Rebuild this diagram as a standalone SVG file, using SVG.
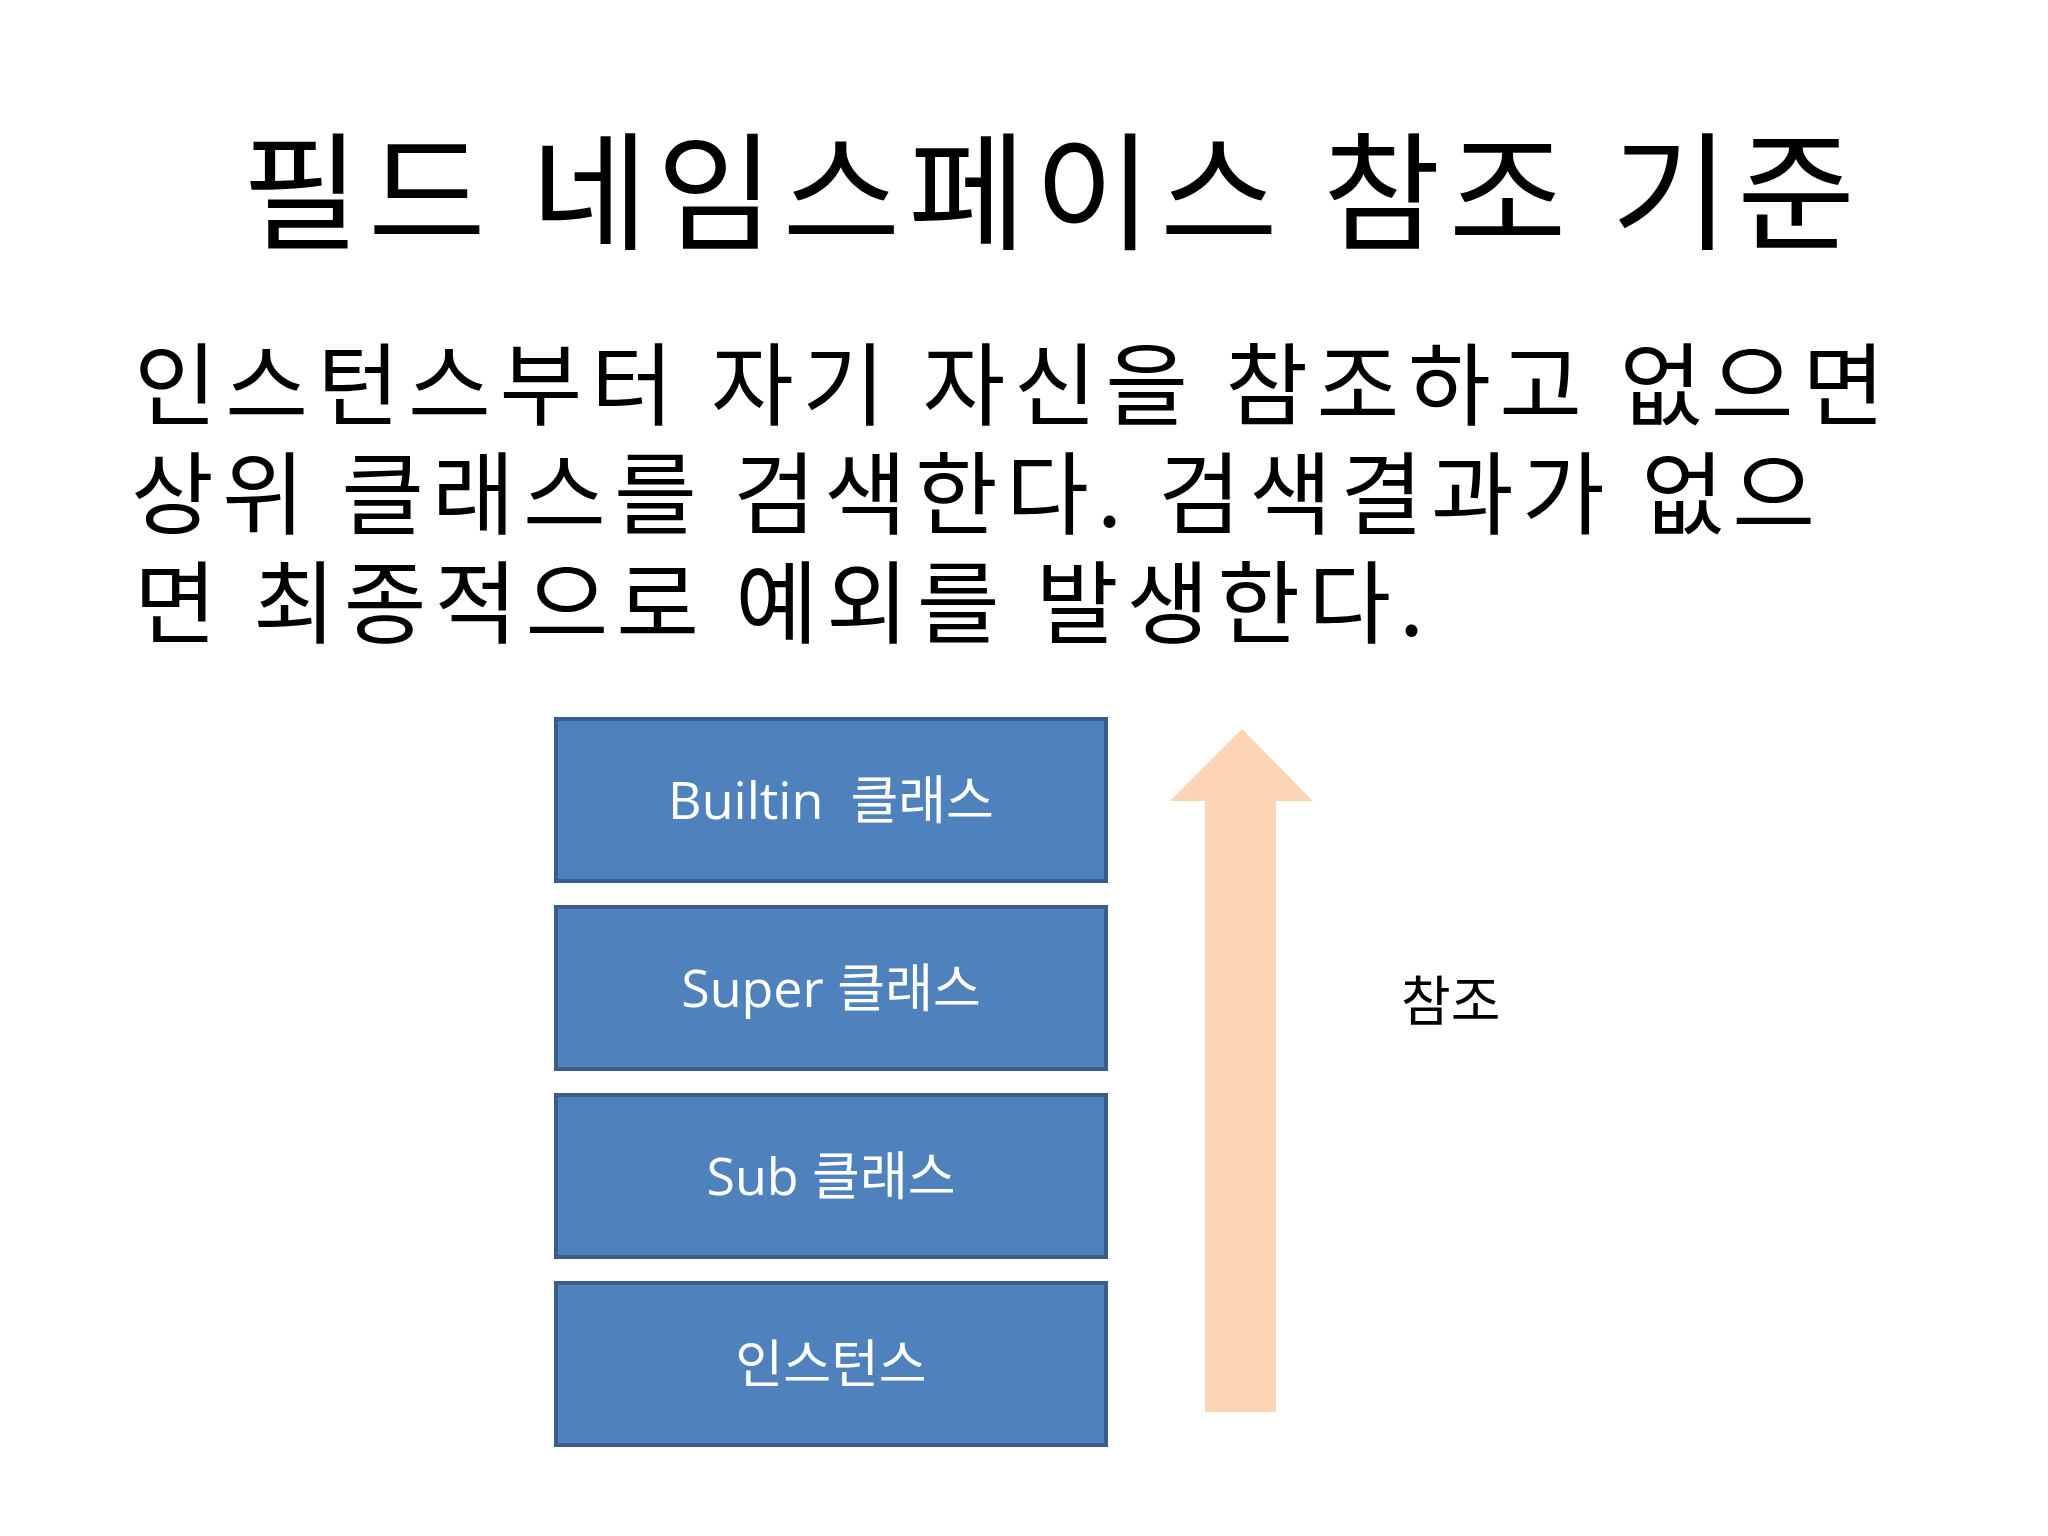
<svg xmlns="http://www.w3.org/2000/svg" width="2048" height="1536" viewBox="0 0 2048 1536">
<style>
.title{font-family:"Noto Sans CJK KR","Noto Sans",sans-serif;font-size:128px;fill:#000}
.body{font-family:"Noto Sans CJK KR","Noto Sans",sans-serif;font-size:90px;fill:#000}
.box{fill:#4F81BD;stroke:#385D8A;stroke-width:4}
.lbl{font-family:"Open Sans","Noto Sans CJK KR",sans-serif;font-size:52px;fill:#fff;text-anchor:middle}
.ref{font-family:"Noto Sans CJK KR",sans-serif;font-size:54px;fill:#000}
</style>
<rect width="2048" height="1536" fill="#fff"/>
<text class="title" x="242" y="240" textLength="1613" lengthAdjust="spacing">필드 네임스페이스 참조 기준</text>
<text class="body" x="134" y="418" textLength="1751" lengthAdjust="spacing">인스턴스부터 자기 자신을 참조하고 없으면</text>
<text class="body" x="131" y="527" textLength="1684" lengthAdjust="spacing">상위 클래스를 검색한다. 검색결과가 없으</text>
<text class="body" x="134" y="636" textLength="1290" lengthAdjust="spacing">면 최종적으로 예외를 발생한다.</text>
<g id="builtin">
<rect class="box" x="556" y="719" width="550" height="162"/>
<text class="lbl" x="831" y="819" xml:space="preserve">Builtin  클래스</text>
</g>
<g id="super">
<rect class="box" x="556" y="907" width="550" height="162"/>
<text class="lbl" x="831" y="1007">Super 클래스</text>
</g>
<g id="sub">
<rect class="box" x="556" y="1095" width="550" height="162"/>
<text class="lbl" x="831" y="1195">Sub 클래스</text>
</g>
<g id="instance">
<rect class="box" x="556" y="1283" width="550" height="162"/>
<text class="lbl" x="831" y="1383">인스턴스</text>
</g>
<g id="connectors">
<polygon points="1242,729 1313,801 1276,801 1276,1412 1205,1412 1205,801 1170,801" fill="#FBD5B5"/>
</g>
<g id="ref-label">
<text class="ref" x="1401" y="1021">참조</text>
</g>
</svg>
